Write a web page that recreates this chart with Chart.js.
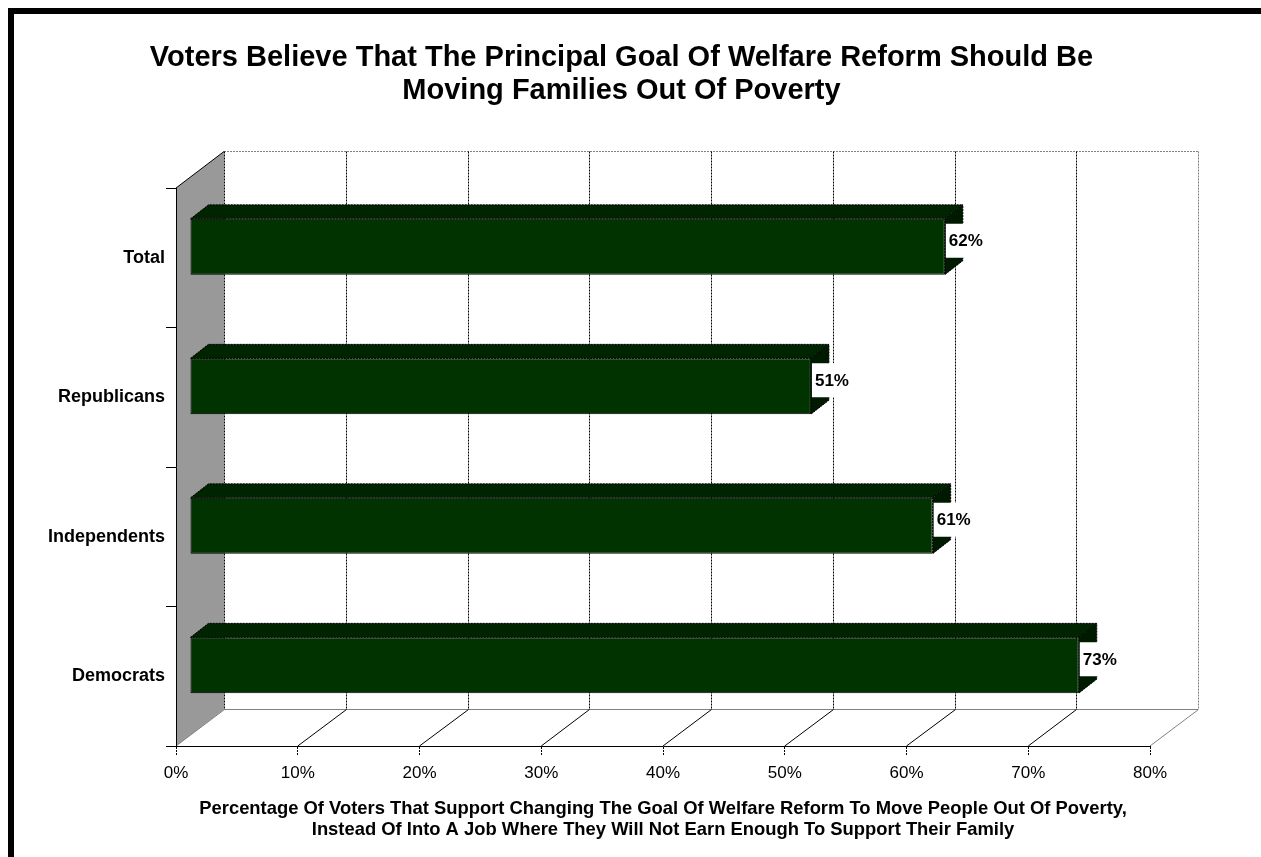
<!DOCTYPE html>
<html>
<head>
<meta charset="utf-8">
<title>Welfare Reform Goal</title>
<script src="https://cdn.jsdelivr.net/npm/chart.js@4/dist/chart.umd.min.js"></script>
<style>
    body { margin: 0; background: #fff; }
    canvas { display: block; }
</style>
</head>
<body>
<canvas id="chart" width="1261" height="857"></canvas>
<script>
// Data
const categories = ['Total', 'Republicans', 'Independents', 'Democrats'];
const support = [62, 51, 61, 73];
const xTickValues = [0, 10, 20, 30, 40, 50, 60, 70, 80];

const titleLines = [
    'Voters Believe That The Principal Goal Of Welfare Reform Should Be',
    'Moving Families Out Of Poverty'
];
const xTitleLines = [
    'Percentage Of Voters That Support Changing The Goal Of Welfare Reform To Move People Out Of Poverty,',
    'Instead Of Into A Job Where They Will Not Earn Enough To Support Their Family'
];

const FONT = "'Liberation Sans', Arial, sans-serif";

// 3D look: offset of back wall, of the bar front face, and bar depth
const WALL = { x: 48, y: -37 };
const SHIFT = { x: 14, y: -11 };
const DEPTH = { x: 18, y: -14 };

// snap a 1px line to the pixel grid
const crisp = v => Math.round(v) + 0.5;

function poly(ctx, pts) {
    ctx.beginPath();
    ctx.moveTo(pts[0][0], pts[0][1]);
    for (let i = 1; i < pts.length; i++) ctx.lineTo(pts[i][0], pts[i][1]);
    ctx.closePath();
}

function line(ctx, x1, y1, x2, y2, color, dash) {
    ctx.beginPath();
    ctx.strokeStyle = color;
    ctx.setLineDash(dash || []);
    ctx.moveTo(x1, y1);
    ctx.lineTo(x2, y2);
    ctx.stroke();
}

const box3d = {
    id: 'box3d',
    beforeDraw(chart) {
        const ctx = chart.ctx;
        const a = chart.chartArea;
        const xs = chart.scales.x;
        const bl = a.left + WALL.x, br = a.right + WALL.x;
        const bt = crisp(a.top + WALL.y), bb = crisp(a.bottom + WALL.y);

        ctx.save();
        // outer frame (top and left edge only)
        ctx.fillStyle = '#000';
        ctx.fillRect(8, 8, chart.width - 8, 6);
        ctx.fillRect(8, 8, 6, chart.height - 8);

        // chart title
        ctx.font = 'bold 29px ' + FONT;
        ctx.textAlign = 'center';
        ctx.textBaseline = 'alphabetic';
        ctx.fillText(titleLines[0], 621.5, 66);
        ctx.fillText(titleLines[1], 621.5, 98.5);

        ctx.lineWidth = 1;
        // left side wall
        poly(ctx, [[a.left, a.top], [bl, bt], [bl, bb], [a.left, a.bottom]]);
        ctx.fillStyle = '#999999';
        ctx.fill();

        // back wall edges
        line(ctx, bl, bt, br, bt, '#808080', [2, 1]);
        line(ctx, bl, bb, br, bb, '#808080');

        // gridlines on back wall + floor diagonals
        const last = xTickValues.length - 1;
        xTickValues.forEach((v, i) => {
            const px = xs.getPixelForValue(v);
            const gx = crisp(px + WALL.x);
            const edge = (i === last);
            line(ctx, gx, bt, gx, bb, edge ? '#808080' : '#000', [2, 1]);
            const diag = (i === 0 || edge) ? '#808080' : '#000';
            line(ctx, px, a.bottom, gx, bb, diag);
        });

        // top edge of side wall
        line(ctx, a.left, a.top, bl, bt, '#000');
        ctx.restore();
    },
    beforeDatasetsDraw(chart) {
        const ctx = chart.ctx;
        ctx.save();
        ctx.translate(SHIFT.x, SHIFT.y);
        // top and end faces of each bar, the library draws the front face on top
        chart.getDatasetMeta(0).data.forEach(bar => {
            const top = bar.y - bar.height / 2;
            const bottom = bar.y + bar.height / 2;
            ctx.lineWidth = 1;
            ctx.strokeStyle = '#000';
            ctx.setLineDash([2, 1]);
            poly(ctx, [[bar.base, top], [bar.base + DEPTH.x, top + DEPTH.y],
                       [bar.x + DEPTH.x, top + DEPTH.y], [bar.x, top]]);
            ctx.fillStyle = '#002400';
            ctx.fill();
            ctx.stroke();
            poly(ctx, [[bar.x, top], [bar.x + DEPTH.x, top + DEPTH.y],
                       [bar.x + DEPTH.x, bottom + DEPTH.y], [bar.x, bottom]]);
            ctx.fillStyle = '#001a00';
            ctx.fill();
            ctx.stroke();
        });
        ctx.setLineDash([]);
    },
    afterDatasetsDraw(chart) {
        const ctx = chart.ctx;
        ctx.restore();
        ctx.save();
        ctx.font = 'bold 17px ' + FONT;
        ctx.textBaseline = 'middle';
        ctx.textAlign = 'left';
        chart.getDatasetMeta(0).data.forEach((bar, i) => {
            const text = support[i] + '%';
            const fx = bar.x + SHIFT.x;
            const cy = bar.y + SHIFT.y - 6;
            const w = ctx.measureText(text).width;
            ctx.fillStyle = '#fff';
            ctx.fillRect(fx + 1, cy - 17, w + 8, 34);
            ctx.fillStyle = '#000';
            ctx.fillText(text, fx + 4, cy + 1);
        });
        ctx.restore();
    }
};

new Chart(document.getElementById('chart'), {
    type: 'bar',
    data: {
        labels: categories,
        datasets: [{
            data: support,
            backgroundColor: '#003300',
            borderColor: '#000',
            borderWidth: 1,
            borderSkipped: false,
            categoryPercentage: 1,
            barPercentage: 0.4,
            clip: false
        }]
    },
    options: {
        indexAxis: 'y',
        responsive: false,
        animation: false,
        layout: { padding: { left: 0, right: 111, top: 188, bottom: 0 } },
        plugins: {
            legend: { display: false },
            tooltip: { enabled: false },
            title: { display: false }
        },
        scales: {
            x: {
                type: 'linear',
                min: 0,
                max: 80,
                afterFit: s => { s.height = 111; },
                afterBuildTicks: s => { s.ticks = xTickValues.map(v => ({ value: v })); },
                ticks: {
                    color: '#000',
                    padding: 7,
                    font: { family: FONT, size: 17 },
                    callback: v => v + '%'
                },
                grid: {
                    drawOnChartArea: false,
                    drawTicks: true,
                    tickLength: 10,
                    tickColor: '#000',
                    tickBorderDash: [2, 1]
                },
                border: { display: true, color: '#000', dash: [2, 1] },
                title: {
                    display: true,
                    text: xTitleLines,
                    color: '#000',
                    font: { family: FONT, size: 18.4, weight: 'bold', lineHeight: 1.163 },
                    padding: { top: 0, bottom: 16.3 }
                }
            },
            y: {
                afterFit: s => { s.width = 176; },
                ticks: {
                    color: '#000',
                    padding: 1,
                    font: { family: FONT, size: 18, weight: 'bold' }
                },
                grid: {
                    drawOnChartArea: false,
                    drawTicks: true,
                    tickLength: 10,
                    tickColor: '#000'
                },
                border: { display: true, color: '#000' }
            }
        }
    },
    plugins: [box3d]
});
</script>
</body>
</html>
